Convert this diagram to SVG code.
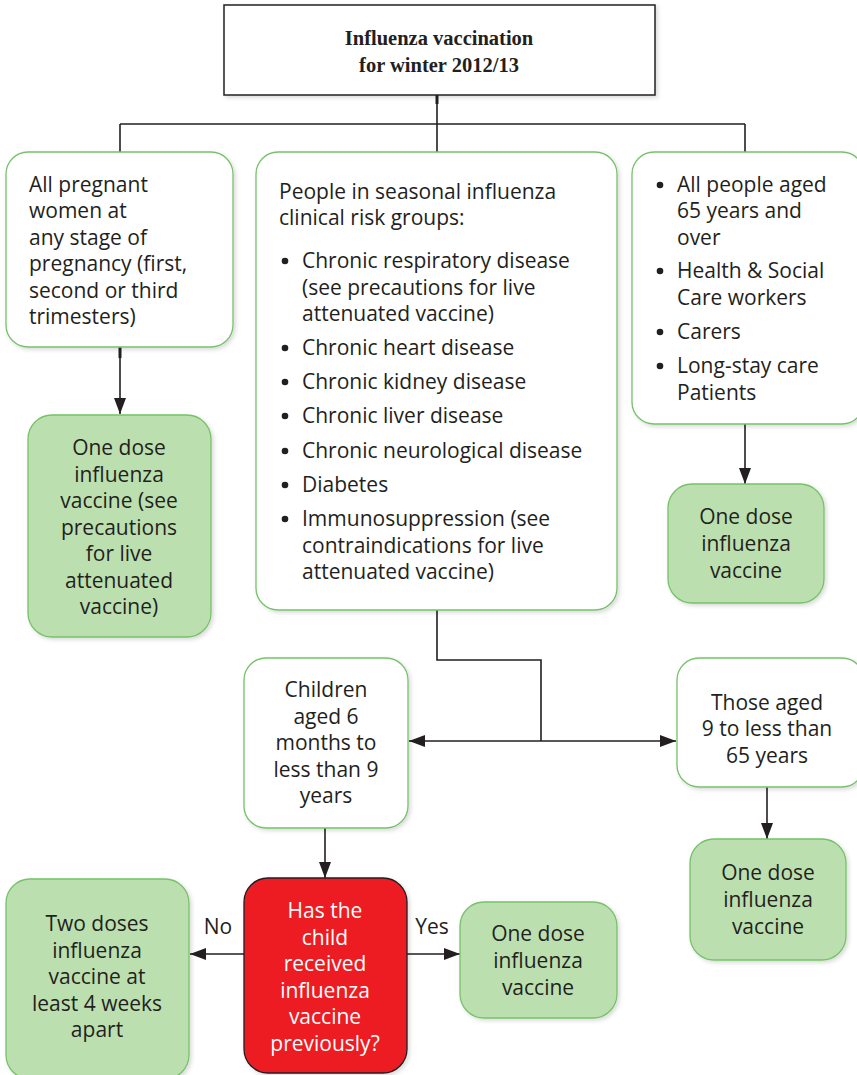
<svg xmlns="http://www.w3.org/2000/svg" width="857" height="1075" viewBox="0 0 857 1075">
<style>
.t{font-family:"Open Sans","Noto Sans","Liberation Sans",sans-serif;font-size:21px;fill:#231f20}
.c{text-anchor:middle}
.w{fill:#ffffff}
.title{font-family:"Liberation Serif","Times New Roman",serif;font-size:20.5px;font-weight:bold;fill:#231f20;text-anchor:middle}
.wb{fill:#ffffff;stroke:#76c26a;stroke-width:1.3}
.gb{fill:#bcdfaf;stroke:#76c26a;stroke-width:1.3}
.rb{fill:#ed1c24;stroke:#231f20;stroke-width:1.3}
.ln{fill:none;stroke:#231f20;stroke-width:1.6}
.bul{fill:#231f20}
</style>
<defs>
<marker id="ah" viewBox="0 0 10 10" refX="10" refY="5" markerWidth="10" markerHeight="10" markerUnits="userSpaceOnUse" orient="auto">
<path d="M0,0 L10,5 L0,10 z" fill="#231f20"/>
</marker>
<marker id="ahb" viewBox="0 0 16 12" refX="16" refY="6" markerWidth="16" markerHeight="12" markerUnits="userSpaceOnUse" orient="auto">
<path d="M0,0 L16,6 L0,12 z" fill="#231f20"/>
</marker>
<filter id="sh" x="-10%" y="-10%" width="130%" height="130%">
<feDropShadow dx="2" dy="2" stdDeviation="2" flood-color="#000" flood-opacity="0.15"/>
</filter>
</defs>

<g id="connectors">
<path class="ln" d="M437,95 V124"/>
<path d="M437,95 V104" stroke="#231f20" stroke-width="3"/>
<path class="ln" d="M120,124 H745"/>
<path class="ln" d="M120,124 V152"/>
<path class="ln" d="M437,124 V152"/>
<path class="ln" d="M745,124 V152"/>
<path class="ln" d="M120,347 V414" marker-end="url(#ahb)"/>
<path d="M120,347 V358" stroke="#231f20" stroke-width="3"/>
<path class="ln" d="M745,424 V484" marker-end="url(#ahb)"/>
<path class="ln" d="M437,610 V660 H541 V741"/>
<path class="ln" d="M541,741 H409" marker-end="url(#ahb)"/>
<path class="ln" d="M541,741 H676" marker-end="url(#ahb)"/>
<path class="ln" d="M767,787 V839" marker-end="url(#ahb)"/>
<path class="ln" d="M325,828 V878" marker-end="url(#ahb)"/>
<path class="ln" d="M244,954 H190" marker-end="url(#ahb)"/>
<path class="ln" d="M407,954 H460" marker-end="url(#ahb)"/>
<text class="t" x="218" y="934" text-anchor="middle">No</text>
<text class="t" x="432" y="934" text-anchor="middle">Yes</text>
</g>

<g id="title">
<rect x="224" y="5" width="431" height="90" fill="#fff" stroke="#231f20" stroke-width="1.5" filter="url(#sh)"/>
<text class="title" x="439" y="45">Influenza vaccination</text>
<text class="title" x="439" y="72">for winter 2012/13</text>
</g>

<g id="pregnant">
<rect class="wb" x="6" y="152" width="227" height="195" rx="22" filter="url(#sh)"/>
<text class="t" x="29" y="192">All pregnant</text>
<text class="t" x="29" y="218">women at</text>
<text class="t" x="29" y="245">any stage of</text>
<text class="t" x="29" y="271">pregnancy (first,</text>
<text class="t" x="29" y="298">second or third</text>
<text class="t" x="29" y="324">trimesters)</text>
</g>

<g id="risk">
<rect class="wb" x="256" y="152" width="361" height="458" rx="22" filter="url(#sh)"/>
<text class="t" x="279" y="199">People in seasonal influenza</text>
<text class="t" x="279" y="225">clinical risk groups:</text>
<circle class="bul" cx="285" cy="261" r="3.3"/>
<text class="t" x="302" y="268">Chronic respiratory disease</text>
<text class="t" x="302" y="295">(see precautions for live</text>
<text class="t" x="302" y="321">attenuated vaccine)</text>
<circle class="bul" cx="285" cy="348" r="3.3"/>
<text class="t" x="302" y="355">Chronic heart disease</text>
<circle class="bul" cx="285" cy="382" r="3.3"/>
<text class="t" x="302" y="389">Chronic kidney disease</text>
<circle class="bul" cx="285" cy="416" r="3.3"/>
<text class="t" x="302" y="423">Chronic liver disease</text>
<circle class="bul" cx="285" cy="451" r="3.3"/>
<text class="t" x="302" y="458">Chronic neurological disease</text>
<circle class="bul" cx="285" cy="485" r="3.3"/>
<text class="t" x="302" y="492">Diabetes</text>
<circle class="bul" cx="285" cy="519" r="3.3"/>
<text class="t" x="302" y="526">Immunosuppression (see</text>
<text class="t" x="302" y="553">contraindications for live</text>
<text class="t" x="302" y="579">attenuated vaccine)</text>
</g>

<g id="over65">
<rect class="wb" x="632" y="152" width="232" height="272" rx="22" filter="url(#sh)"/>
<circle class="bul" cx="660" cy="185" r="3.3"/>
<text class="t" x="677" y="192">All people aged</text>
<text class="t" x="677" y="218">65 years and</text>
<text class="t" x="677" y="245">over</text>
<circle class="bul" cx="660" cy="271" r="3.3"/>
<text class="t" x="677" y="278">Health &amp; Social</text>
<text class="t" x="677" y="305">Care workers</text>
<circle class="bul" cx="660" cy="332" r="3.3"/>
<text class="t" x="677" y="339">Carers</text>
<circle class="bul" cx="660" cy="366" r="3.3"/>
<text class="t" x="677" y="373">Long-stay care</text>
<text class="t" x="677" y="400">Patients</text>
</g>

<g id="pregnant-dose">
<rect class="gb" x="28" y="415" width="183" height="222" rx="24" filter="url(#sh)"/>
<text class="t c" x="119" y="455">One dose</text>
<text class="t c" x="119" y="482">influenza</text>
<text class="t c" x="119" y="508">vaccine (see</text>
<text class="t c" x="119" y="535">precautions</text>
<text class="t c" x="119" y="561">for live</text>
<text class="t c" x="119" y="588">attenuated</text>
<text class="t c" x="119" y="614">vaccine)</text>
</g>

<g id="over65-dose">
<rect class="gb" x="668" y="484" width="156" height="119" rx="24" filter="url(#sh)"/>
<text class="t c" x="746" y="524">One dose</text>
<text class="t c" x="746" y="551">influenza</text>
<text class="t c" x="746" y="578">vaccine</text>
</g>

<g id="children">
<rect class="wb" x="244" y="658" width="164" height="170" rx="22" filter="url(#sh)"/>
<text class="t c" x="326" y="697">Children</text>
<text class="t c" x="326" y="724">aged 6</text>
<text class="t c" x="326" y="750">months to</text>
<text class="t c" x="326" y="777">less than 9</text>
<text class="t c" x="326" y="803">years</text>
</g>

<g id="aged9to65">
<rect class="wb" x="677" y="658" width="187" height="129" rx="22" filter="url(#sh)"/>
<text class="t c" x="767" y="710">Those aged</text>
<text class="t c" x="767" y="736">9 to less than</text>
<text class="t c" x="767" y="763">65 years</text>
</g>

<g id="aged9to65-dose">
<rect class="gb" x="690" y="839" width="156" height="121" rx="24" filter="url(#sh)"/>
<text class="t c" x="768" y="880">One dose</text>
<text class="t c" x="768" y="907">influenza</text>
<text class="t c" x="768" y="934">vaccine</text>
</g>

<g id="question">
<rect class="rb" x="244" y="878" width="163" height="195" rx="24" filter="url(#sh)"/>
<text class="t c w" x="325" y="918">Has the</text>
<text class="t c w" x="325" y="945">child</text>
<text class="t c w" x="325" y="971">received</text>
<text class="t c w" x="325" y="998">influenza</text>
<text class="t c w" x="325" y="1024">vaccine</text>
<text class="t c w" x="325" y="1051">previously?</text>
</g>

<g id="two-doses">
<rect class="gb" x="6" y="879" width="183" height="200" rx="24" filter="url(#sh)"/>
<text class="t c" x="97" y="931">Two doses</text>
<text class="t c" x="97" y="958">influenza</text>
<text class="t c" x="97" y="984">vaccine at</text>
<text class="t c" x="97" y="1011">least 4 weeks</text>
<text class="t c" x="97" y="1037">apart</text>
</g>

<g id="one-dose-yes">
<rect class="gb" x="460" y="902" width="157" height="116" rx="24" filter="url(#sh)"/>
<text class="t c" x="538" y="941">One dose</text>
<text class="t c" x="538" y="968">influenza</text>
<text class="t c" x="538" y="995">vaccine</text>
</g>
</svg>
